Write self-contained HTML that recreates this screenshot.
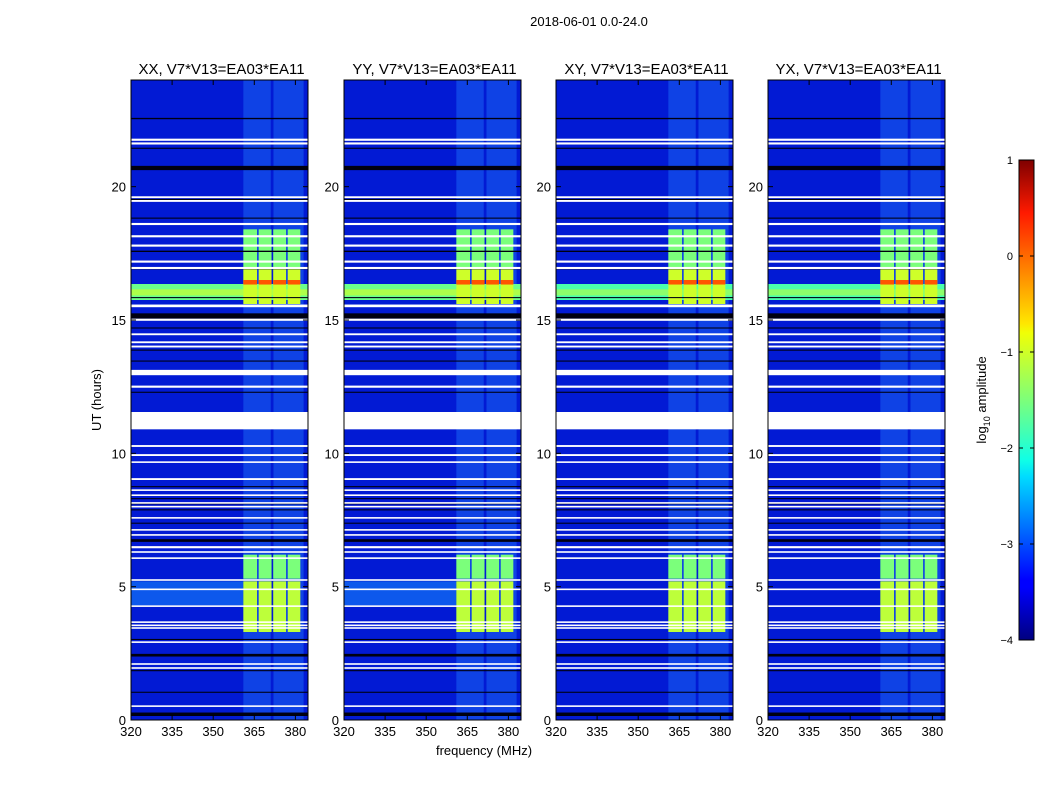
<!DOCTYPE html>
<html><head><meta charset="utf-8">
<style>
body{margin:0;background:#fff;width:1050px;height:800px;overflow:hidden;font-family:"Liberation Sans",sans-serif}
svg text{font-family:"Liberation Sans",sans-serif}
</style></head><body>
<svg id="chart" width="1050" height="800" xmlns="http://www.w3.org/2000/svg">
<defs>
<linearGradient id="jet" x1="0" y1="1" x2="0" y2="0">
<stop offset="0" stop-color="#00007f"/><stop offset="0.11" stop-color="#0000ff"/>
<stop offset="0.125" stop-color="#0000ff"/><stop offset="0.34" stop-color="#00dbff"/>
<stop offset="0.375" stop-color="#10ffe6"/><stop offset="0.5" stop-color="#7dff7a"/>
<stop offset="0.64" stop-color="#f0ff06"/><stop offset="0.66" stop-color="#ffe600"/>
<stop offset="0.89" stop-color="#ff1a00"/><stop offset="1" stop-color="#7f0000"/>
</linearGradient>
</defs>
<text x="589" y="26" font-size="13" text-anchor="middle">2018-06-01 0.0-24.0</text>
<text transform="translate(101,400) rotate(-90)" font-size="13" text-anchor="middle">UT (hours)</text>
<text x="484" y="755" font-size="13" text-anchor="middle">frequency (MHz)</text>
<g id="panels"></g>
<g id="cbar"></g>
</svg>
<script>
const panelTitles=["XX, V7*V13=EA03*EA11","YY, V7*V13=EA03*EA11","XY, V7*V13=EA03*EA11","YX, V7*V13=EA03*EA11"];
const panelLefts=[131,344,556,768];
const yTicks=[0,5,10,15,20];
const xTicks=[320,335,350,365,380];
const freqMin=320, freqMax=384.6, hourMin=0, hourMax=24;
const whiteBands=[[21.58,21.66],[21.72,21.8],[19.43,19.5],[19.57,19.64],[18.56,18.64],[18.1,18.18],[17.75,17.83],[17.15,17.23],[16.91,16.99],[15.48,15.58],[14.97,15.05],[14.43,14.5],[14.13,14.2],[13.97,14.04],[12.93,13.13],[12.46,12.54],[10.9,11.55],[10.24,10.31],[9.9,9.97],[9.64,9.7],[9.0,9.07],[8.59,8.65],[8.4,8.46],[8.11,8.17],[7.97,8.03],[7.55,7.61],[7.1,7.16],[6.91,6.97],[6.44,6.52],[6.27,6.33],[6.04,6.1],[5.22,5.28],[4.87,4.93],[4.24,4.3],[3.64,3.7],[3.52,3.58],[3.42,3.48],[2.89,2.95],[2.07,2.13],[1.92,1.98],[0.49,0.55]];
const blackBands=[[22.53,22.58],[21.42,21.46],[20.62,20.78],[19.5,19.54],[18.8,18.84],[17.55,17.6],[16.9,16.94],[15.82,15.86],[15.05,15.25],[14.68,14.72],[13.85,13.89],[13.44,13.48],[12.27,12.31],[9.0,9.04],[8.73,8.77],[8.28,8.32],[8.09,8.13],[7.86,7.9],[7.36,7.4],[6.68,6.78],[3.0,3.04],[2.38,2.48],[1.83,1.87],[1.02,1.06],[0.15,0.28]];
const rfiCols=[[361,366],[366.6,371.3],[371.9,376.6],[377.2,381.8]];
const rfiSegs=[[16.9,18.4,-1.5],[15.6,16.9,-1.0],[16.33,16.5,0.1],[5.3,6.2,-1.5],[3.3,5.2,-1.1]];
const broadBands=[[15.75,16.35,-1.6],[15.92,16.15,-1.2]];
const faintCols=[[361,371],[372,383]];
const cbTicks=[1,0,-1,-2,-3,-4];

function jet(v){
  const t=(v+4)/5;
  const r=Math.min(1,Math.max(0,(t-0.35)/0.31, 0)) * (t>0.89? Math.max(0.5,1-(t-0.89)/0.22):1);
  const g=t<0.125?0:t<0.375?(t-0.125)/0.25:t<0.64?1:Math.max(0,1-(t-0.64)/0.27);
  const b=t<0.11?0.5+t/0.22:t<0.34?1:Math.max(0,1-(t-0.34)/0.31);
  return `rgb(${Math.round(Math.min(1,r)*255)},${Math.round(g*255)},${Math.round(b*255)})`;
}
const NS="http://www.w3.org/2000/svg";
function mk(tag,attrs,parent){const e=document.createElementNS(NS,tag);for(const k in attrs)e.setAttribute(k,attrs[k]);parent.appendChild(e);return e;}
const plotTop=80,plotBot=720,pw=177;
function yS(h){return plotBot-(h-hourMin)/(hourMax-hourMin)*(plotBot-plotTop);}
const G=document.getElementById('panels');
panelLefts.forEach((L,pi)=>{
  const xS=f=>L+(f-freqMin)/(freqMax-freqMin)*pw;
  const g=mk('g',{},G);
  
  
  const bg=mk('rect',{x:L,y:plotTop,width:pw,height:plotBot-plotTop,fill:'rgb(2,26,212)'},g);
  
  
  faintCols.forEach(c=>{const r=mk('rect',{x:xS(c[0]),y:plotTop,width:xS(c[1])-xS(c[0]),height:plotBot-plotTop,fill:'rgb(20,80,235)',opacity:0.75},g);
    
    });
  if(pi<2){const r=mk('rect',{x:L,y:yS(5.2),width:xS(361)-L,height:yS(4.3)-yS(5.2),fill:'rgb(15,100,240)',opacity:0.85},g);
    
    }
  broadBands.forEach(b=>{const r=mk('rect',{x:L,y:yS(b[1]),width:pw,height:yS(b[0])-yS(b[1]),fill:jet(b[2]-(pi>=2?0.2:0))},g);
    
    });
  rfiSegs.forEach(s=>rfiCols.forEach(c=>{const r=mk('rect',{x:xS(c[0]),y:yS(s[1]),width:xS(c[1])-xS(c[0]),height:yS(s[0])-yS(s[1]),fill:jet(s[2])},g);
    
    }));
  blackBands.forEach(b=>{const r=mk('rect',{x:L,y:yS(b[1]),width:pw,height:Math.max(1,yS(b[0])-yS(b[1])),fill:'#000010'},g);
    
    });
  whiteBands.forEach(b=>{const r=mk('rect',{x:L,y:yS(b[1]),width:pw,height:Math.max(1.5,yS(b[0])-yS(b[1])),fill:'#fff'},g);
    
    });
  mk('rect',{x:L,y:plotTop,width:pw,height:plotBot-plotTop,fill:'none',stroke:'#000','stroke-width':1},g);
  const t=mk('text',{x:L+pw/2+2,y:74,'font-size':15,'text-anchor':'middle'},g);t.textContent=panelTitles[pi];
  
  
  yTicks.forEach(v=>{const y=yS(v);mk('line',{x1:L,x2:L+5,y1:y,y2:y,stroke:'#000'},g);mk('line',{x1:L+pw-5,x2:L+pw,y1:y,y2:y,stroke:'#000'},g);
    const tx=mk('text',{x:L-5,y:y+5,'font-size':13,'text-anchor':'end'},g);tx.textContent=v;
    
    });
  xTicks.forEach(v=>{const x=xS(v);mk('line',{x1:x,x2:x,y1:plotBot-5,y2:plotBot,stroke:'#000'},g);mk('line',{x1:x,x2:x,y1:plotTop,y2:plotTop+5,stroke:'#000'},g);
    const tx=mk('text',{x:x,y:736,'font-size':13,'text-anchor':'middle'},g);tx.textContent=v;
    
    });
});
const C=document.getElementById('cbar');
const cT=160,cB=640,cL=1019,cW=15;
mk('rect',{x:cL,y:cT,width:cW,height:cB-cT,fill:'url(#jet)',stroke:'#000'},C);
cbTicks.forEach(v=>{const y=cB-(v+4)/5*(cB-cT);mk('line',{x1:cL+cW-4,x2:cL+cW,y1:y,y2:y,stroke:'#000'},C);mk('line',{x1:cL,x2:cL+4,y1:y,y2:y,stroke:'#000'},C);
  const tx=mk('text',{x:1013,y:y+4,'font-size':11,'text-anchor':'end'},C);tx.textContent=v<0?'\u2212'+(-v):v;
  
  });
const lab=mk('text',{transform:'translate(986,400) rotate(-90)','font-size':13,'text-anchor':'middle'},C);


lab.innerHTML='log<tspan font-size="9" dy="4">10</tspan><tspan dy="-4"> amplitude</tspan>';
</script>
</body></html>
